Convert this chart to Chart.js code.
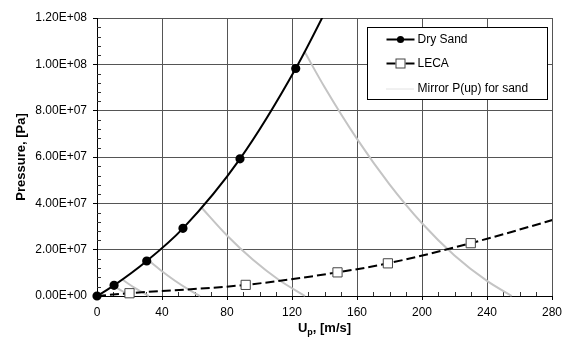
<!DOCTYPE html>
<html>
<head>
<meta charset="utf-8">
<script src="https://cdn.jsdelivr.net/npm/chart.js@4.4.1/dist/chart.umd.min.js"></script>
<style>
  html, body { margin: 0; padding: 0; background: #fff; }
  #wrap { width: 563px; height: 339px; position: relative; }
</style>
</head>
<body>
<div id="wrap"><canvas id="c"></canvas></div>
<script>
// particle velocity Up [m/s] vs pressure [Pa]
const sandU = [0, 10.5, 30.6, 52.9, 88, 122.3, 150];
const sandP = [0, 4.6e6, 1.51e7, 2.92e7, 5.92e7, 9.82e7, 1.36e8];
const sandMarks = [1, 1, 1, 1, 1, 1, 0]; // last point only carries the curve past the top

const lecaU = [0, 20, 91.5, 148, 179, 230, 300];
const lecaP = [0, 1.2e6, 4.8e6, 1.02e7, 1.41e7, 2.28e7, 3.68e7];
const lecaMarks = [0, 1, 1, 1, 1, 1, 0];

// mirrored sand curves, one for each reflection point
const mirrorU = [
  [10.5, 13, 15.5, 18, 21],
  [16, 20, 24, 28, 32],
  [31.7, 40, 48, 56, 63.4],
  [64, 80, 96, 112, 128],
  [127.6, 140, 160, 180, 200, 220, 240, 255.2]
];
const mirrorP = [
  [4.6e6, 3.2e6, 2.16e6, 1.15e6, 0],
  [6.9e6, 4.98e6, 3.21e6, 1.55e6, 0],
  [1.54e7, 1.07e7, 6.6e6, 2.95e6, 0],
  [3.84e7, 2.61e7, 1.56e7, 6.9e6, 0],
  [1.056e8, 9.02e7, 6.78e7, 4.82e7, 3.14e7, 1.75e7, 6.5e6, 0]
];

const xTicks = [0, 40, 80, 120, 160, 200, 240, 280];
const yTicks = [0, 2e7, 4e7, 6e7, 8e7, 1e8, 1.2e8];
const xMinorStep = 10;
const yMinorStep = 4e6;

const seriesNames = ['Dry Sand', 'LECA', 'Mirror P(up) for sand'];

function pts(us, ps) {
  return us.map((u, i) => ({ x: u, y: ps[i] }));
}

function sci(v) {
  if (v === 0) return '0.00E+00';
  const parts = v.toExponential(2).split('e');
  const e = parseInt(parts[1], 10);
  return parts[0] + 'E' + (e < 0 ? '-' : '+') + String(Math.abs(e)).padStart(2, '0');
}

Chart.defaults.font.family = '"Liberation Sans", Arial, sans-serif';
Chart.defaults.font.size = 12;
Chart.defaults.color = '#000';

const MIRROR_COLOR = '#c4c4c4';

const datasets = [
  {
    label: seriesNames[0],
    data: pts(sandU, sandP),
    showLine: true,
    borderColor: '#000',
    borderWidth: 2,
    backgroundColor: '#000',
    pointBackgroundColor: '#000',
    pointBorderColor: '#000',
    pointRadius: sandMarks.map(m => m ? 3.6 : 0),
    cubicInterpolationMode: 'monotone',
    order: 0
  },
  {
    label: seriesNames[1],
    data: pts(lecaU, lecaP),
    showLine: true,
    borderColor: '#000',
    borderWidth: 2,
    borderDash: [9, 4],
    pointStyle: 'rect',
    pointBackgroundColor: '#fff',
    pointBorderColor: '#444',
    pointBorderWidth: 1,
    pointRadius: lecaMarks.map(m => m ? 6.5 : 0),
    cubicInterpolationMode: 'monotone',
    order: 1
  }
];
mirrorU.forEach((us, k) => {
  datasets.push({
    label: k === 0 ? seriesNames[2] : '',
    data: pts(us, mirrorP[k]),
    showLine: true,
    borderColor: MIRROR_COLOR,
    borderWidth: 2,
    pointRadius: 0,
    cubicInterpolationMode: 'monotone',
    order: 2
  });
});
datasets.forEach(d => { d.clip = { left: 6, top: 0, right: 0, bottom: 6 }; });

// minor tick marks on the inside of both axes
const minorTicks = {
  id: 'minorTicks',
  beforeDatasetsDraw(chart) {
    const { ctx, chartArea, scales } = chart;
    ctx.save();
    ctx.strokeStyle = '#333';
    ctx.lineWidth = 1;
    ctx.beginPath();
    for (let v = scales.x.min; v <= scales.x.max; v += xMinorStep) {
      if (xTicks.includes(v)) continue;
      const px = Math.round(scales.x.getPixelForValue(v)) + 0.5;
      ctx.moveTo(px, chartArea.bottom);
      ctx.lineTo(px, chartArea.bottom - 4);
    }
    for (let v = scales.y.min; v <= scales.y.max; v += yMinorStep) {
      if (yTicks.some(t => Math.abs(t - v) < 1)) continue;
      const py = Math.round(scales.y.getPixelForValue(v)) + 0.5;
      ctx.moveTo(chartArea.left, py);
      ctx.lineTo(chartArea.left + 4, py);
    }
    ctx.stroke();
    ctx.restore();
  }
};

// axis titles (x title needs a subscript)
const axisTitles = {
  id: 'axisTitles',
  afterDraw(chart) {
    const { ctx, chartArea } = chart;
    ctx.save();
    ctx.fillStyle = '#000';
    ctx.textBaseline = 'middle';
    ctx.font = 'bold 13px "Liberation Sans", Arial, sans-serif';
    ctx.translate(21, (chartArea.top + chartArea.bottom) / 2);
    ctx.rotate(-Math.PI / 2);
    ctx.textAlign = 'center';
    ctx.fillText('Pressure, [Pa]', 0, 0);
    ctx.restore();

    ctx.save();
    ctx.fillStyle = '#000';
    ctx.textBaseline = 'alphabetic';
    const big = 'bold 13px "Liberation Sans", Arial, sans-serif';
    const small = 'bold 9px "Liberation Sans", Arial, sans-serif';
    ctx.font = big;
    const wU = ctx.measureText('U').width;
    const wRest = ctx.measureText(', [m/s]').width;
    ctx.font = small;
    const wP = ctx.measureText('p').width;
    const total = wU + wP + wRest;
    let x = (chartArea.left + chartArea.right) / 2 - total / 2;
    const base = 332;
    ctx.font = big;
    ctx.fillText('U', x, base);
    x += wU;
    ctx.font = small;
    ctx.fillText('p', x, base + 3);
    x += wP;
    ctx.font = big;
    ctx.fillText(', [m/s]', x, base);
    ctx.restore();
  }
};

// boxed legend inside the plot, top right
const boxLegend = {
  id: 'boxLegend',
  afterDraw(chart) {
    const { ctx, chartArea } = chart;
    const w = 180, h = 72;
    const bx = Math.round(chartArea.right - 5 - w) + 0.5;
    const by = Math.round(chartArea.top + 9) + 0.5;
    ctx.save();
    ctx.fillStyle = '#fff';
    ctx.fillRect(bx, by, w, h);
    ctx.strokeStyle = '#000';
    ctx.lineWidth = 1;
    ctx.strokeRect(bx, by, w, h);

    const x0 = bx + 19, x1 = bx + 47, xm = (x0 + x1) / 2;
    const rows = [by + 12, by + 36, by + 61];
    ctx.font = '12px "Liberation Sans", Arial, sans-serif';
    ctx.textBaseline = 'middle';
    ctx.textAlign = 'left';

    // Dry Sand
    ctx.strokeStyle = '#000';
    ctx.lineWidth = 2;
    ctx.beginPath();
    ctx.moveTo(x0, rows[0]); ctx.lineTo(x1, rows[0]);
    ctx.stroke();
    ctx.fillStyle = '#000';
    ctx.beginPath();
    ctx.arc(xm, rows[0], 3.6, 0, Math.PI * 2);
    ctx.fill();
    ctx.fillText(seriesNames[0], x1 + 3, rows[0]);

    // LECA
    ctx.beginPath();
    ctx.moveTo(x0, rows[1]); ctx.lineTo(x1, rows[1]);
    ctx.stroke();
    ctx.fillStyle = '#fff';
    ctx.fillRect(xm - 5, rows[1] - 5, 10, 10);
    ctx.strokeStyle = '#444';
    ctx.lineWidth = 1;
    ctx.strokeRect(xm - 4.5, rows[1] - 4.5, 9, 9);
    ctx.fillStyle = '#000';
    ctx.fillText(seriesNames[1], x1 + 3, rows[1]);

    // mirror
    ctx.strokeStyle = MIRROR_COLOR;
    ctx.lineWidth = 1;
    ctx.setLineDash([1, 1]);
    ctx.beginPath();
    ctx.moveTo(x0, rows[2] + 0.5); ctx.lineTo(x1, rows[2] + 0.5);
    ctx.stroke();
    ctx.setLineDash([]);
    ctx.fillText(seriesNames[2], x1 + 3, rows[2]);
    ctx.restore();
  }
};

new Chart(document.getElementById('c'), {
  type: 'scatter',
  data: { datasets },
  plugins: [minorTicks, axisTitles, boxLegend],
  options: {
    responsive: true,
    maintainAspectRatio: false,
    animation: false,
    devicePixelRatio: 1,
    layout: { padding: { top: 18, right: 11, left: 0, bottom: 0 } },
    plugins: {
      legend: { display: false },
      tooltip: { enabled: false }
    },
    scales: {
      x: {
        type: 'linear',
        min: 0,
        max: 280,
        afterBuildTicks: s => { s.ticks = xTicks.map(v => ({ value: v })); },
        afterFit: s => { s.height = 43; s.paddingLeft = 0; s.paddingRight = 0; },
        ticks: { padding: 5, autoSkip: false, maxRotation: 0, color: '#000', font: { size: 12 } },
        grid: { color: '#555', lineWidth: 1, tickColor: '#000', tickLength: 4 },
        border: { color: '#000', width: 1 }
      },
      y: {
        type: 'linear',
        min: 0,
        max: 1.2e8,
        afterBuildTicks: s => { s.ticks = yTicks.map(v => ({ value: v })); },
        afterFit: s => { s.width = 97; s.paddingTop = 0; s.paddingBottom = 0; },
        ticks: { padding: 6, autoSkip: false, color: '#000', font: { size: 12 }, callback: v => sci(v) },
        grid: { color: '#555', lineWidth: 1, tickColor: '#000', tickLength: 4 },
        border: { color: '#000', width: 1 }
      }
    }
  }
});
</script>
</body>
</html>
